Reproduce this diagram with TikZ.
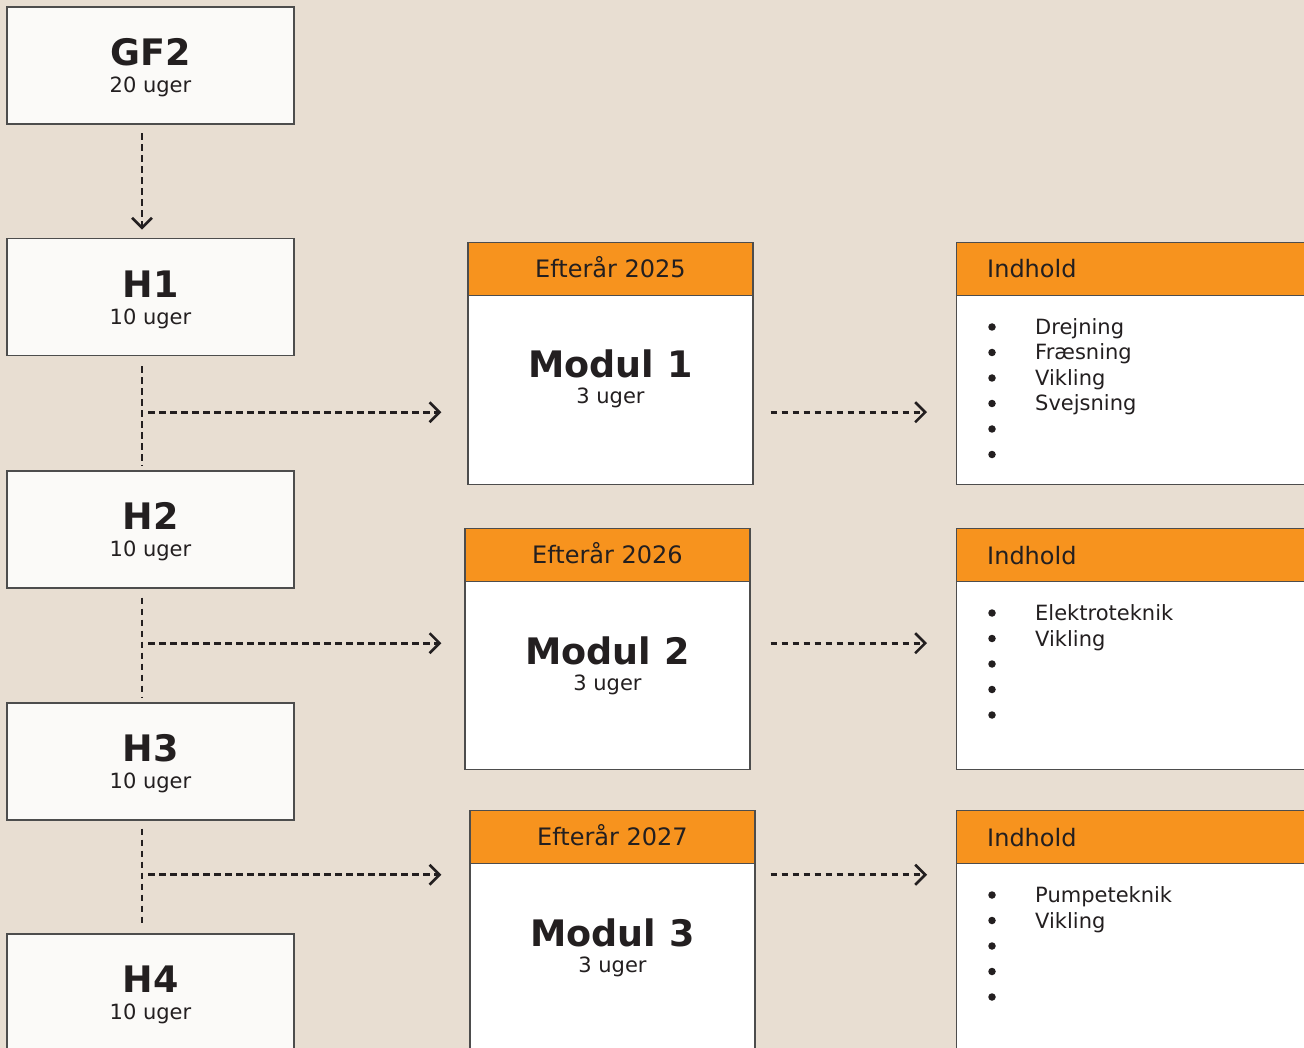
\documentclass[tikz,border=0pt]{standalone}
\usepackage{fontspec}
\setmainfont{DejaVu Sans}
\usetikzlibrary{arrows.meta,calc}

\definecolor{bg}{RGB}{232,222,210}
\definecolor{hfill}{RGB}{251,250,248}
\definecolor{orangehd}{RGB}{247,147,30}
\definecolor{ink}{RGB}{35,31,32}
\definecolor{frame}{RGB}{77,77,77}

\newcommand{\bigtitle}{\fontsize{36.5}{40}\selectfont\bfseries}
\newcommand{\weeks}{\fontsize{21}{25}\selectfont}
\newcommand{\headtxt}{\fontsize{24}{28}\selectfont}
\newcommand{\itemtxt}{\fontsize{21}{25}\selectfont}

\begin{document}
\begin{tikzpicture}[x=1pt, y=-1pt, text=ink,
	hbox/.style={draw=frame, fill=hfill, line width=1.2pt, minimum width=287pt, minimum height=117pt, inner sep=0pt},
	mbox/.style={draw=frame, fill=white, line width=1.2pt, minimum width=285pt, minimum height=242pt, inner sep=0pt},
	ibox/.style={draw=frame, fill=white, line width=1.2pt, minimum width=360pt, minimum height=242pt, inner sep=0pt, anchor=north west},
	head/.style={draw=frame, fill=orangehd, line width=1.2pt, minimum height=53pt, inner sep=0pt, font=\headtxt, text height=17.5pt, text depth=0pt},
	ttl/.style={anchor=base, font=\bigtitle, inner sep=0pt},
	sub/.style={anchor=base, font=\weeks, inner sep=0pt},
	bul/.style={circle, fill=ink, minimum size=7.5pt, inner sep=0pt},
	itm/.style={anchor=base west, font=\itemtxt, inner sep=0pt},
	flow/.style={draw=ink, line width=2.6pt, dash pattern=on 6.5pt off 4.5pt},
	tip/.style={-{Straight Barb[length=10pt, width=20pt]}}]

	\useasboundingbox (0,0) rectangle (1304,1048);
	\clip (0,0) rectangle (1304,1048);
	\fill[bg] (0,0) rectangle (1304,1048);

	% semesters
	\node [hbox] (GF2) at (150.5,65.5) {};
	\node [hbox] (H1) at (150.5,297.25) {};
	\node [hbox] (H2) at (150.5,529.5) {};
	\node [hbox] (H3) at (150.5,761.5) {};
	\node [hbox] (H4) at (150.5,992.5) {};
	\node [ttl] at ([yshift=-59pt]GF2.north) {GF2};
	\node [sub] at ([yshift=-86pt]GF2.north) {20 uger};
	\node [ttl] at ([yshift=-59pt]H1.north) {H1};
	\node [sub] at ([yshift=-86pt]H1.north) {10 uger};
	\node [ttl] at ([yshift=-59pt]H2.north) {H2};
	\node [sub] at ([yshift=-86pt]H2.north) {10 uger};
	\node [ttl] at ([yshift=-59pt]H3.north) {H3};
	\node [sub] at ([yshift=-86pt]H3.north) {10 uger};
	\node [ttl] at ([yshift=-59pt]H4.north) {H4};
	\node [sub] at ([yshift=-86pt]H4.north) {10 uger};

	% modules
	\node [mbox, anchor=north] (M1) at (610.5,242) {};
	\node [mbox, anchor=north, minimum height=241pt] (M2) at (607.5,528) {};
	\node [mbox, anchor=north] (M3) at (612.5,810) {};
	\node [head, anchor=north, minimum width=285pt] (M1h) at (M1.north) {Efterår 2025};
	\node [head, anchor=north, minimum width=285pt] (M2h) at (M2.north) {Efterår 2026};
	\node [head, anchor=north, minimum width=285pt] (M3h) at (M3.north) {Efterår 2027};
	\node [ttl] at ([yshift=-136pt]M1.north) {Modul 1};
	\node [sub] at ([yshift=-162pt]M1.north) {3 uger};
	\node [ttl] at ([yshift=-136pt]M2.north) {Modul 2};
	\node [sub] at ([yshift=-162pt]M2.north) {3 uger};
	\node [ttl] at ([yshift=-136pt]M3.north) {Modul 3};
	\node [sub] at ([yshift=-162pt]M3.north) {3 uger};

	% contents
	\node [ibox] (I1) at (956,242) {};
	\node [ibox, minimum height=241pt] (I2) at (956,528) {};
	\node [ibox] (I3) at (956,810) {};
	\foreach \b in {I1,I2,I3} {
		\node [head, anchor=north west, minimum width=360pt] (\b h) at (\b.north west) {};
		\node [anchor=base west, font=\headtxt, inner sep=0pt] at ([xshift=31pt, yshift=-36pt]\b.north west) {Indhold};
	}
	\foreach \n in {1,...,6} {
		\pgfmathsetmacro\yy{85+25.5*(\n-1)}
		\node [bul] at ([xshift=36pt, yshift=-\yy pt]I1.north west) {};
	}
	\foreach \n in {1,...,5} {
		\pgfmathsetmacro\yy{85+25.5*(\n-1)}
		\node [bul] at ([xshift=36pt, yshift=-\yy pt]I2.north west) {};
		\node [bul] at ([xshift=36pt, yshift=-\yy pt]I3.north west) {};
	}
	\foreach \t [count=\n] in {Drejning,Fræsning,Vikling,Svejsning} {
		\pgfmathsetmacro\yy{92.5+25.5*(\n-1)}
		\node [itm] at ([xshift=79pt, yshift=-\yy pt]I1.north west) {\t};
	}
	\foreach \t [count=\n] in {Elektroteknik,Vikling} {
		\pgfmathsetmacro\yy{92.5+25.5*(\n-1)}
		\node [itm] at ([xshift=79pt, yshift=-\yy pt]I2.north west) {\t};
	}
	\foreach \t [count=\n] in {Pumpeteknik,Vikling} {
		\pgfmathsetmacro\yy{92.5+25.5*(\n-1)}
		\node [itm] at ([xshift=79pt, yshift=-\yy pt]I3.north west) {\t};
	}

	% connectors
	\coordinate (j1) at ($([xshift=-8.5pt]H1.south)!0.49!([xshift=-8.5pt]H2.north)$);
	\coordinate (j2) at ($([xshift=-8.5pt]H2.south)!0.48!([xshift=-8.5pt]H3.north)$);
	\coordinate (j3) at ($([xshift=-8.5pt]H3.south)!0.48!([xshift=-8.5pt]H4.north)$);

	\draw [flow, tip, shorten <=8.5pt, shorten >=8.5pt] ([xshift=-8.5pt]GF2.south) -- ([xshift=-8.5pt]H1.north);
	\draw [flow, shorten <=10pt, shorten >=5pt] ([xshift=-8.5pt]H1.south) -- ([xshift=-8.5pt]H2.north);
	\draw [flow, shorten <=9pt, shorten >=5pt] ([xshift=-8.5pt]H2.south) -- ([xshift=-8.5pt]H3.north);
	\draw [flow, shorten <=8pt, shorten >=6pt] ([xshift=-8.5pt]H3.south) -- ([xshift=-8.5pt]H4.north);

	\draw [flow, tip, shorten <=6pt, shorten >=26pt] (j1) -- (M1.west |- j1);
	\draw [flow, tip, shorten <=6pt, shorten >=23pt] (j2) -- (M2.west |- j2);
	\draw [flow, tip, shorten <=6pt, shorten >=28pt] (j3) -- (M3.west |- j3);

	\draw [flow, tip, shorten <=17pt, shorten >=29pt] (M1.east |- j1) -- (I1.west |- j1);
	\draw [flow, tip, shorten <=20pt, shorten >=29pt] (M2.east |- j2) -- (I2.west |- j2);
	\draw [flow, tip, shorten <=15pt, shorten >=29pt] (M3.east |- j3) -- (I3.west |- j3);
\end{tikzpicture}
\end{document}
